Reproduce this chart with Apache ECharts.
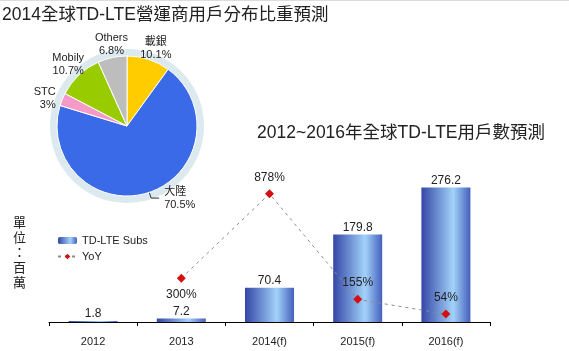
<!DOCTYPE html>
<html>
<head>
<meta charset="utf-8">
<script src="https://cdn.jsdelivr.net/npm/echarts@6/dist/echarts.min.js"></script>
<style>
  html, body { margin: 0; padding: 0; background: #fff; }
  #chart { width: 569px; height: 351px; box-sizing: border-box; border-top: 1px solid #dcdcdc; }
</style>
</head>
<body>
<div id="chart"></div>
<script>
// 2014 share of TD-LTE subscribers by operator
const pieNames = ['載銀', '大陸', 'STC', 'Mobily', 'Others']
const pieValues = [10.1, 70.5, 3, 10.7, 6.8]
const pieColors = ['#ffcc00', '#3a6ae8', '#f59ac8', '#99cc00', '#bdbdbd']

// 2012~2016 subscribers (millions) and YoY growth (%)
const years = ['2012', '2013', '2014(f)', '2015(f)', '2016(f)']
const subs = [1.8, 7.2, 70.4, 179.8, 276.2]
const yoy = [null, 300, 878, 155, 54]

const font = "'Liberation Sans', 'Noto Sans CJK TC', sans-serif"
const textColor = '#222'

// label placement around the pie, by slice name: align, verticalAlign, dx, dy
const pieLabelAlign = {
  '載銀': ['center', 'bottom', -3, 6],
  'Others': ['center', 'bottom', 9, 4],
  'Mobily': ['center', 'bottom', 5, -4],
  'STC': ['right', 'middle', 5, -11]
}

const chart = echarts.init(document.getElementById('chart'))

const barColor = new echarts.graphic.LinearGradient(0, 0, 1, 0, [
  { offset: 0, color: '#3446a6' },
  { offset: 0.65, color: '#a2d2fa' },
  { offset: 1, color: '#4560bd' }
])

const opt = {
  backgroundColor: '#fff',
  textStyle: { fontFamily: font },
  title: [{
    text: '2014全球TD-LTE營運商用戶分布比重預測',
    left: 2,
    top: 5,
    padding: 0,
    textStyle: { fontFamily: font, fontWeight: 'normal', fontSize: 17.5, color: textColor }
  }, {
    text: '2012~2016年全球TD-LTE用戶數預測',
    left: 257,
    top: 123,
    padding: 0,
    textStyle: { fontFamily: font, fontWeight: 'normal', fontSize: 17.5, color: textColor }
  }, {
    text: '單\n位\n：\n百\n萬',
    left: 13,
    top: 215,
    padding: 0,
    textStyle: { fontFamily: font, fontWeight: 'normal', fontSize: 13, lineHeight: 15, color: textColor }
  }],
  legend: {
    orient: 'vertical',
    left: 52,
    top: 229,
    itemWidth: 19,
    itemHeight: 7,
    itemGap: 5,
    textStyle: { fontFamily: font, fontSize: 11, color: textColor },
    data: ['TD-LTE Subs', 'YoY']
  },
  graphic: [{
    type: 'circle',
    shape: { cx: 127, cy: 125, r: 77 },
    style: { fill: '#dce9ef' },
    z: -1
  }],
  grid: {
    left: 49,
    right: 79,
    top: 175,
    bottom: 29
  },
  xAxis: {
    type: 'category',
    data: years,
    axisLine: { lineStyle: { color: '#000', width: 1 } },
    axisTick: { show: true, length: 4, lineStyle: { color: '#000' } },
    axisLabel: { color: textColor, fontSize: 11, margin: 14 }
  },
  yAxis: [{
    type: 'value',
    min: 0,
    max: 300,
    show: false
  }, {
    type: 'value',
    min: 0,
    max: 1000,
    show: false
  }],
  series: [{
    name: 'share',
    type: 'pie',
    center: [127, 125],
    radius: 70,
    startAngle: 90,
    clockwise: true,
    silent: true,
    itemStyle: { borderColor: '#fff', borderWidth: 1 },
    label: {
      fontSize: 11,
      color: textColor,
      lineHeight: 13,
      formatter: p => p.name + '\n' + p.value + '%'
    },
    labelLine: { show: false, length: 4, length2: 4 },
    labelLayout: p => {
      const a = pieLabelAlign[p.text.split('\n')[0]]
      return a ? { align: a[0], verticalAlign: a[1], dx: a[2], dy: a[3] } : {}
    },
    data: pieNames.map((n, i) => ({
      name: n,
      value: pieValues[i],
      itemStyle: { color: pieColors[i] },
      labelLine: n === '大陸' ? { show: true, length: 6, length2: 8, lineStyle: { color: '#333', width: 1 } } : undefined
    }))
  }, {
    name: 'TD-LTE Subs',
    type: 'bar',
    barWidth: 49,
    data: subs,
    itemStyle: { color: barColor },
    label: {
      show: true,
      position: 'top',
      distance: 1,
      fontSize: 12,
      color: textColor
    }
  }, {
    name: 'YoY',
    type: 'line',
    yAxisIndex: 1,
    data: yoy.map((v, i) => ({
      value: v,
      label: { position: i === 1 ? 'bottom' : 'top' }
    })),
    symbol: 'diamond',
    symbolSize: 9,
    itemStyle: { color: '#d40f0f' },
    lineStyle: { color: '#8a8a8a', width: 1, type: [3, 4] },
    label: {
      show: true,
      fontSize: 12,
      color: textColor,
      distance: 6,
      formatter: p => p.value + '%'
    },
    z: 3
  }]
}

chart.setOption(opt)
</script>
</body>
</html>
